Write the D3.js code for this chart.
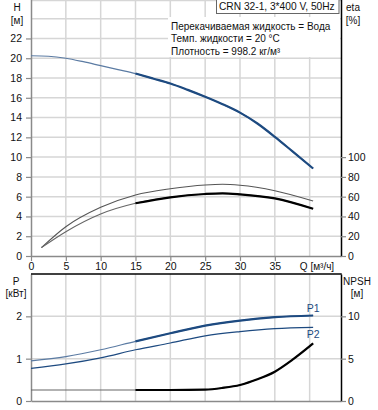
<!DOCTYPE html>
<html>
<head>
<meta charset="utf-8">
<script src="https://cdn.jsdelivr.net/npm/d3@7"></script>
<style>
  body { margin: 0; background: #fff; }
  svg { display: block; font-family: "Liberation Sans", Arial, sans-serif; }
</style>
</head>
<body>
<div class="vis-pump"></div>
<script>
// Pump curve data
const headFlow = [0, 2.5, 5, 7.5, 10, 12.5, 15, 17.5, 20, 22.5, 25, 27.5, 30, 32.5, 35, 37.5, 40.5];
const head = [20.25, 20.2, 20.0, 19.65, 19.25, 18.85, 18.45, 17.95, 17.45, 16.8, 16.1, 15.35, 14.5, 13.4, 12.05, 10.6, 8.85];

const etaFlow = [1.5, 5, 10, 15, 20, 25, 27.5, 30, 35, 40.5];
const etaPump = [8.5, 29.6, 49.2, 61.7, 68, 71.8, 72.5, 71.5, 66, 55.6];
const etaTotal = [8.5, 24.6, 42.5, 53.3, 59.3, 62.7, 63.4, 62.4, 58.3, 47.8];

const powerFlow = [0, 5, 10, 15, 20, 25, 30, 35, 40.5];
const powerP1 = [0.95, 1.05, 1.21, 1.41, 1.6, 1.78, 1.9, 1.98, 2.02];
const powerP2 = [0.77, 0.875, 1.02, 1.21, 1.37, 1.54, 1.64, 1.71, 1.74];

const npshFlow = [0, 5, 10, 15, 20, 25, 27.5, 30, 32.5, 35, 37.5, 40.5];
const npsh = [1.3, 1.3, 1.3, 1.3, 1.3, 1.35, 1.55, 1.89, 2.56, 3.46, 4.85, 6.8];

// ticks
const qTicks = [0, 5, 10, 15, 20, 25, 30, 35];
const qGrid = [5, 10, 15, 20, 25, 30, 35, 40];
const hTicks = [0, 2, 4, 6, 8, 10, 12, 14, 16, 18, 20, 22];
const hGrid = [2, 4, 6, 8, 10, 12, 14, 16, 18, 20, 22, 24];
const etaTicks = [0, 20, 40, 60, 80, 100];
const pTicks = [0, 1, 2];
const npshTicks = [0, 5, 10];

const infoLines = ["Перекачиваемая жидкость = Вода", "Темп. жидкости = 20 °C", "Плотность = 998.2 кг/м³"];
const title = "CRN 32-1, 3*400 V, 50Hz";

const config = {
    "blue": "#1d4a80",
    "grid": "#d6d6d6",
    "axis": "#8a8a8a",
    "text": "#111"
};
const dutyStart = 15;

const W = 378, Hgt = 410;
const left = 31, right = 341;
const topY0 = -1.1, topY1 = 256;
const botY0 = 274, botY1 = 401;

let svg = d3.select(".vis-pump")
    .append("svg")
    .attr("width", W)
    .attr("height", Hgt);

// scales
let x = d3.scaleLinear().domain([0, 44.5]).range([left, right]);
let yH = d3.scaleLinear().domain([0, 26]).range([topY1, topY0]);
let yEta = d3.scaleLinear().domain([0, 260]).range([topY1, topY0]);
let yP = d3.scaleLinear().domain([0, 3]).range([botY1, botY0]);
let yN = d3.scaleLinear().domain([0, 15]).range([botY1, botY0]);

const zip = (a, b) => a.map((v, i) => [v, b[i]]);

// grid
const grid = svg.append("g").attr("stroke", config.grid).attr("stroke-width", 1.5);
grid.selectAll(".vg1").data(qGrid).enter().append("line")
    .attr("x1", d => x(d)).attr("x2", d => x(d))
    .attr("y1", topY0).attr("y2", topY1);
grid.selectAll(".hg1").data(hGrid).enter().append("line")
    .attr("x1", left).attr("x2", right)
    .attr("y1", d => yH(d)).attr("y2", d => yH(d));
grid.selectAll(".vg2").data(qGrid).enter().append("line")
    .attr("x1", d => x(d)).attr("x2", d => x(d))
    .attr("y1", botY0).attr("y2", botY1);
grid.selectAll(".hg2").data([1, 2]).enter().append("line")
    .attr("x1", left).attr("x2", right)
    .attr("y1", d => yP(d)).attr("y2", d => yP(d));
grid.append("line").attr("x1", left).attr("x2", right).attr("y1", 0.5).attr("y2", 0.5);

// info box
svg.append("rect")
    .attr("x", 168).attr("y", 17).attr("width", right - 169).attr("height", 40)
    .attr("fill", "#fff");
svg.selectAll(".info").data(infoLines).enter().append("text")
    .attr("x", 171)
    .attr("y", (d, i) => 29.5 + i * 12.7)
    .attr("font-size", 10)
    .attr("fill", config.text)
    .text(d => d);

// title box
svg.append("rect")
    .attr("x", 216.5).attr("y", -1).attr("width", 122.5).attr("height", 14.5)
    .attr("fill", "#fff").attr("stroke", "#666").attr("stroke-width", 1);
svg.append("text")
    .attr("x", 219).attr("y", 10)
    .attr("font-size", 10.2).attr("fill", config.text)
    .text(title);

// axes
function styleAxis(g, color) {
    g.select(".domain").attr("stroke", color).attr("stroke-width", 1.5);
    g.selectAll(".tick line").attr("stroke", color).attr("stroke-width", 1.2);
    g.selectAll(".tick text").attr("fill", config.text).attr("font-size", 10.5)
        .attr("font-family", "Liberation Sans, Arial, sans-serif");
}
const fmt = d3.format("d");

svg.append("g")
    .attr("transform", `translate(${left},0)`)
    .call(d3.axisLeft(yH).tickValues(hTicks).tickFormat(fmt).tickSize(5).tickSizeOuter(0).tickPadding(4))
    .call(g => styleAxis(g, config.axis));

svg.append("g")
    .attr("transform", `translate(0,${topY1})`)
    .call(d3.axisBottom(x).tickValues(qTicks).tickFormat(fmt).tickSize(5).tickSizeOuter(0).tickPadding(2))
    .call(g => styleAxis(g, config.axis));

svg.append("g")
    .attr("transform", `translate(${right},0)`)
    .call(d3.axisRight(yEta).tickValues(etaTicks).tickFormat(fmt).tickSize(5).tickSizeOuter(0).tickPadding(2))
    .call(g => styleAxis(g, "#000"))
    .call(g => g.selectAll(".tick line").attr("stroke", config.axis));

svg.append("g")
    .attr("transform", `translate(${left},0)`)
    .call(d3.axisLeft(yP).tickValues(pTicks).tickFormat(fmt).tickSize(5).tickSizeOuter(0).tickPadding(4))
    .call(g => styleAxis(g, config.axis));

svg.append("g")
    .attr("transform", `translate(0,${botY1})`)
    .call(d3.axisBottom(x).tickValues([]).tickSizeOuter(0))
    .call(g => styleAxis(g, config.axis));

svg.append("g")
    .attr("transform", `translate(${right},0)`)
    .call(d3.axisRight(yN).tickValues(npshTicks).tickFormat(fmt).tickSize(5).tickSizeOuter(0).tickPadding(2))
    .call(g => styleAxis(g, "#000"))
    .call(g => g.selectAll(".tick line").attr("stroke", config.axis));

svg.append("line")
    .attr("x1", left).attr("x2", right + 0.75)
    .attr("y1", botY0).attr("y2", botY0)
    .attr("stroke", "#000").attr("stroke-width", 1.5);

// axis titles
const labels = [
    { t: "H", x: 17, y: 11 }, { t: "[м]", x: 17, y: 23.5 },
    { t: "eta", x: 353, y: 11 }, { t: "[%]", x: 353, y: 23.5 },
    { t: "P", x: 16, y: 284.5 }, { t: "[кВт]", x: 16, y: 296.5 },
    { t: "NPSH", x: 357, y: 284.5 }, { t: "[м]", x: 357, y: 296.5 },
    { t: "Q [м³/ч]", x: 317, y: 270 }
];
svg.selectAll(".lbl").data(labels).enter().append("text")
    .attr("x", d => d.x).attr("y", d => d.y)
    .attr("text-anchor", "middle")
    .attr("font-size", 10).attr("fill", config.text)
    .text(d => d.t);

// curves
function drawCurve(pts, yScale, color, width) {
    svg.append("path")
        .datum(pts)
        .attr("fill", "none")
        .attr("stroke", color)
        .attr("stroke-width", width)
        .attr("stroke-linejoin", "round")
        .attr("d", d3.line().x(d => x(d[0])).y(d => yScale(d[1])).curve(d3.curveMonotoneX));
}
const duty = pts => pts.filter(d => d[0] >= dutyStart);

let headPts = zip(headFlow, head);
drawCurve(headPts, yH, "#5b7ba3", 1.2);
drawCurve(duty(headPts), yH, config.blue, 2.2);

drawCurve(zip(etaFlow, etaPump), yEta, "#555", 1.1);
let etaPts = zip(etaFlow, etaTotal);
drawCurve(etaPts, yEta, "#666", 1.1);
drawCurve(duty(etaPts), yEta, "#000", 2.2);

let p1Pts = zip(powerFlow, powerP1);
drawCurve(p1Pts, yP, "#5b7ba3", 1.2);
drawCurve(duty(p1Pts), yP, config.blue, 2.2);
drawCurve(zip(powerFlow, powerP2), yP, config.blue, 1.2);

let nPts = zip(npshFlow, npsh);
drawCurve(nPts, yN, "#666", 1.1);
drawCurve(duty(nPts), yN, "#000", 2.2);

svg.selectAll(".plbl").data([{ t: "P1", v: powerP1 }, { t: "P2", v: powerP2 }]).enter().append("text")
    .attr("x", x(powerFlow[powerFlow.length - 1]))
    .attr("y", (d, i) => i === 0 ? yP(d.v[d.v.length - 1]) - 3 : yP(d.v[d.v.length - 1]) + 11)
    .attr("text-anchor", "middle")
    .attr("font-size", 10.5).attr("fill", config.blue)
    .text(d => d.t);
</script>
</body>
</html>
